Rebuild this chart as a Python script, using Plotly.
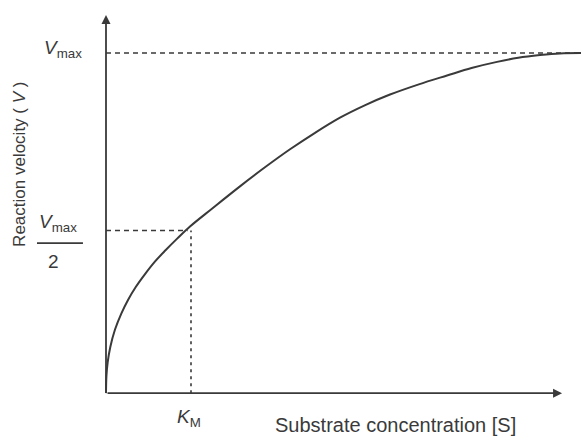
import plotly.graph_objects as go

# Data (arbitrary units: S in multiples of K_M, V as fraction of Vmax)
substrate = [0.0, 0.005, 0.02, 0.05, 0.106, 0.18, 0.259, 0.35, 0.459, 0.58, 0.7, 0.84,
             0.988, 1.25, 1.576, 1.87, 2.165, 2.45, 2.753, 3.05, 3.341, 3.68, 4.012,
             4.3, 4.6, 4.85, 5.106, 5.341, 5.59]
velocity = [0.0, 0.05, 0.091, 0.135, 0.187, 0.234, 0.274, 0.312, 0.35, 0.388, 0.42, 0.455,
            0.49, 0.543, 0.608, 0.664, 0.717, 0.764, 0.81, 0.847, 0.878, 0.908, 0.934,
            0.956, 0.974, 0.986, 0.994, 0.999, 1.0]
vmax = 1.0
half_level = 0.478
km = 1.0
x_axis_end = 5.365
y_axis_end = 1.112

ink = "#3a3a3a"
font = "Liberation Sans, Arial, sans-serif"

fig = go.Figure()
fig.add_trace(go.Scatter(x=substrate, y=velocity, mode="lines",
                         line=dict(color=ink, width=2, shape="spline", smoothing=1.0),
                         hoverinfo="skip", showlegend=False))

# dashed guide lines
fig.add_shape(type="line", x0=0, x1=5.6, y0=vmax, y1=vmax,
              line=dict(color=ink, width=1.6, dash="5px,4px"))
fig.add_shape(type="line", x0=0, x1=km * 0.96, y0=half_level, y1=half_level,
              line=dict(color=ink, width=1.6, dash="5px,4px"))
fig.add_shape(type="line", x0=km, x1=km, y0=0, y1=half_level,
              line=dict(color=ink, width=1.6, dash="3px,4px"))

# axes with arrows
fig.add_annotation(x=x_axis_end, y=0, ax=0, ay=0, xref="x", yref="y", axref="x", ayref="y",
                   showarrow=True, arrowhead=2, arrowsize=1, arrowwidth=1.8,
                   arrowcolor=ink, text="")
fig.add_annotation(x=0, y=y_axis_end, ax=0, ay=0, xref="x", yref="y", axref="x", ayref="y",
                   showarrow=True, arrowhead=2, arrowsize=1, arrowwidth=1.8,
                   arrowcolor=ink, text="")

# labels
fig.add_annotation(x=-0.506, y=1.012, xref="x", yref="y", showarrow=False,
                   text="<i>V</i><sub>max</sub>", font=dict(family=font, size=19, color=ink))
fig.add_annotation(x=-0.56, y=0.50, xref="x", yref="y", showarrow=False,
                   text="<i>V</i><sub>max</sub>", font=dict(family=font, size=19, color=ink))
fig.add_shape(type="line", x0=-0.812, x1=-0.271, y0=0.441, y1=0.441,
              line=dict(color=ink, width=1.8))
fig.add_annotation(x=-0.612, y=0.388, xref="x", yref="y", showarrow=False,
                   text="2", font=dict(family=font, size=19, color=ink))
fig.add_annotation(x=0.976, y=-0.074, xref="x", yref="y", showarrow=False,
                   text="<i>K</i><sub>M</sub>", font=dict(family=font, size=19, color=ink))
fig.add_annotation(x=3.41, y=-0.094, xref="x", yref="y", showarrow=False,
                   text="Substrate concentration [S]", font=dict(family=font, size=20, color=ink))
fig.add_annotation(x=-1.012, y=0.674, xref="x", yref="y", showarrow=False, textangle=-90,
                   text="Reaction velocity ( <i>V</i> )", font=dict(family=font, size=17, color=ink))

fig.update_layout(
    width=581, height=437,
    margin=dict(l=0, r=0, t=0, b=0),
    paper_bgcolor="white", plot_bgcolor="white",
    xaxis=dict(range=[-1.247, 5.588], visible=False, fixedrange=True),
    yaxis=dict(range=[-0.129, 1.156], visible=False, fixedrange=True),
)
fig.write_html("out.html")
